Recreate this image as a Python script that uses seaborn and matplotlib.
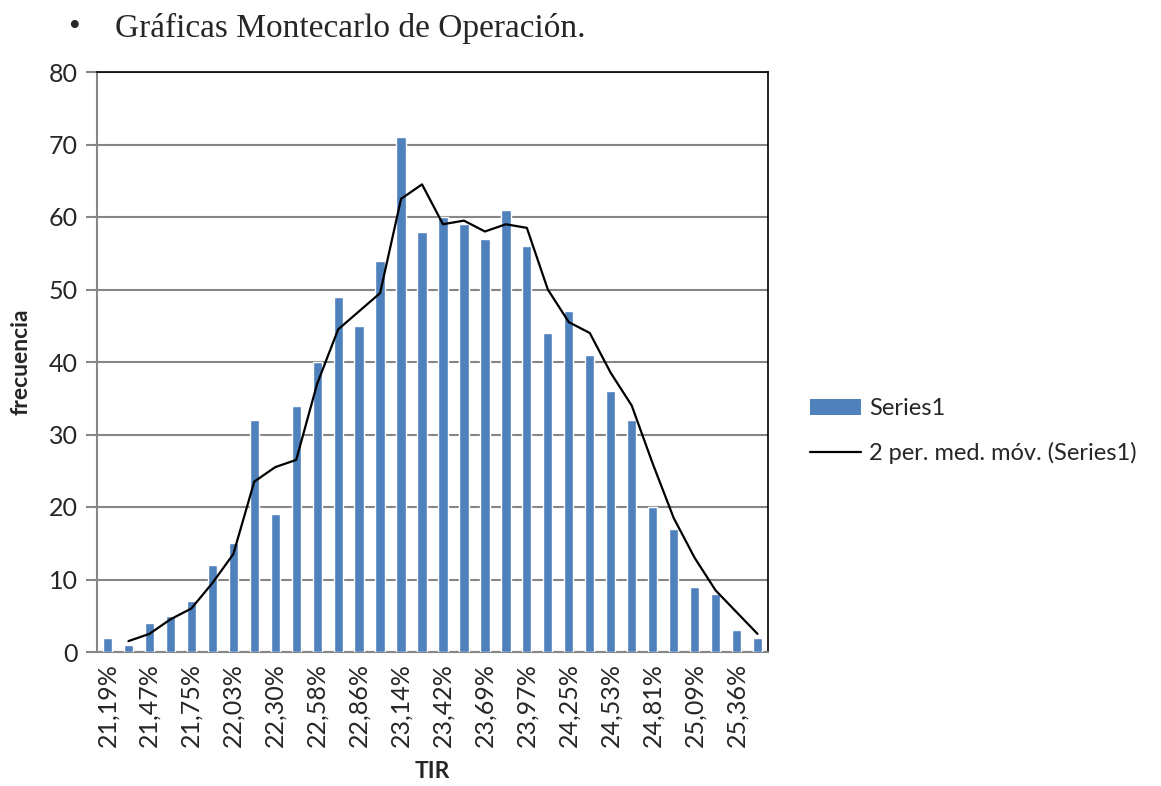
import numpy as np
import pandas as pd
import matplotlib
matplotlib.use("Agg")
import matplotlib.pyplot as plt
import seaborn as sns
from matplotlib.patches import Patch
from matplotlib.lines import Line2D

# Data
frecuencia = [2, 1, 4, 5, 7, 12, 15, 32, 19, 34, 40, 49, 45, 54, 71, 58,
              60, 59, 57, 61, 56, 44, 47, 41, 36, 32, 20, 17, 9, 8, 3, 2]
tick_labels = ["21,19%", "21,47%", "21,75%", "22,03%", "22,30%", "22,58%",
               "22,86%", "23,14%", "23,42%", "23,69%", "23,97%", "24,25%",
               "24,53%", "24,81%", "25,09%", "25,36%"]
bin_index = list(range(len(frecuencia)))

df = pd.DataFrame({"bin": bin_index, "frecuencia": frecuencia})
df["mm"] = df["frecuencia"].rolling(2).mean()

sns.set_style("white")
plt.rcParams['font.family'] = ['Lato', 'DejaVu Sans']

fig = plt.figure(figsize=(11.61, 7.86), dpi=100)
ax = fig.add_axes([97/1161, 1-652/786, (768-97)/1161, (652-72)/786])

bar_color = "#4F81BD"
sns.barplot(data=df, x="bin", y="frecuencia", color=bar_color, width=0.44,
            saturation=1, ax=ax, zorder=3)
mm = df.dropna()
sns.lineplot(x=mm["bin"].values, y=mm["mm"].values, color="black", lw=1.6,
             ax=ax, zorder=4)

ax.set_xlim(-0.5, len(frecuencia) - 0.5)
ax.set_ylim(0, 80)
ax.set_yticks(range(0, 81, 10))
ax.yaxis.grid(True, color="#868686", lw=1.5, zorder=0)
ax.set_axisbelow(True)
ax.set_xticks(range(0, len(frecuencia), 2))
ax.set_xticklabels(tick_labels, rotation=90, fontsize=18)
ax.tick_params(axis="y", labelsize=18, length=8, width=1.5, color="#868686",
               pad=6, direction="out", left=True)
ax.tick_params(axis="x", length=0, pad=8)

for s in ["left", "bottom"]:
    ax.spines[s].set_color("#868686")
    ax.spines[s].set_linewidth(1.5)
for s in ["top", "right"]:
    ax.spines[s].set_color("black")
    ax.spines[s].set_linewidth(1.2)

ax.set_xlabel("TIR", fontsize=16.5, fontweight="bold", labelpad=10)
ax.set_ylabel("frecuencia", fontsize=16.5, fontweight="bold", labelpad=12)

handles = [Patch(facecolor=bar_color, edgecolor="none"),
           Line2D([0], [0], color="black", lw=1.6)]
fig.legend(handles, ["Series1", "2 per. med. móv. (Series1)"],
           loc="center left", bbox_to_anchor=(810/1161, 1-431/786),
           frameon=False, borderpad=0, borderaxespad=0,
           fontsize=17, handlelength=2.15, handleheight=0.65,
           handletextpad=0.35, labelspacing=0.95)

fig.text(68/1161, 1-28/786, "•", fontsize=24, family="Liberation Serif",
         va="center", ha="left")
fig.text(115/1161, 1-28/786, "Gráficas Montecarlo de Operación.", fontsize=24,
         family="Liberation Serif", va="center", ha="left")

fig.savefig("out.png", dpi=100)
